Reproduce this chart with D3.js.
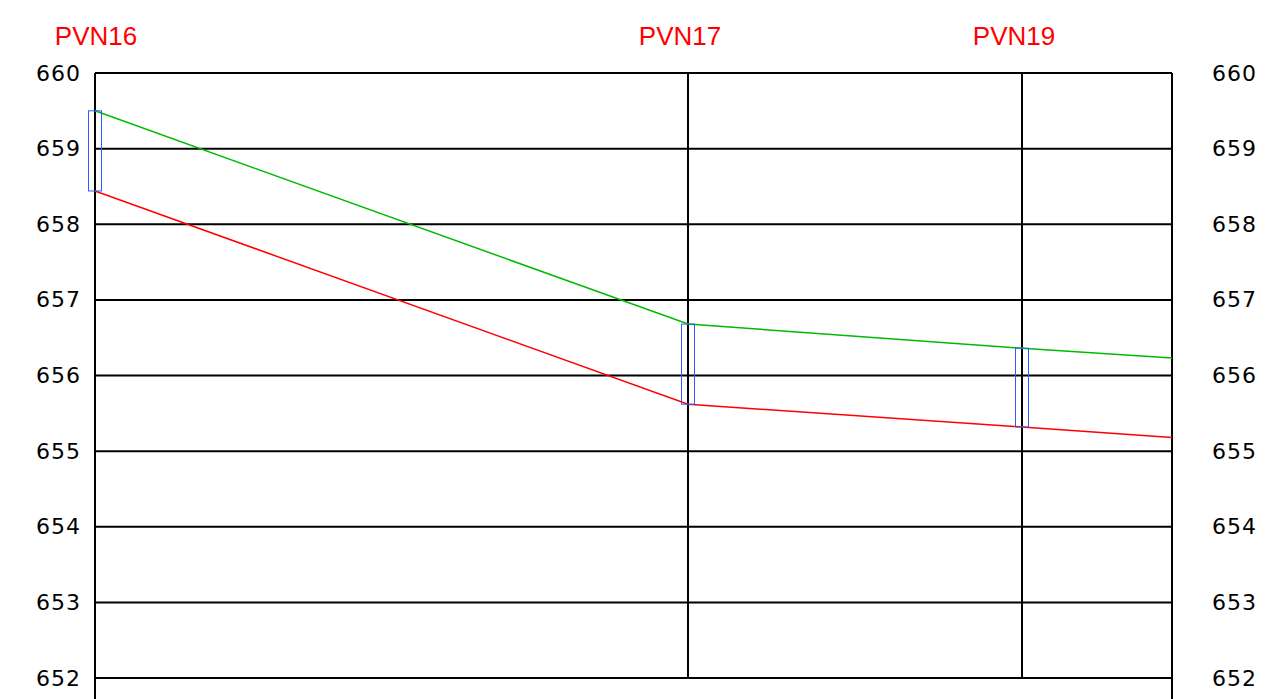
<!DOCTYPE html>
<html>
<head>
<meta charset="utf-8">
<script src="https://cdn.jsdelivr.net/npm/d3@7"></script>
<style>
body { margin: 0; background: #fff; }
</style>
</head>
<body>
<div id="chart"></div>
<script>
// manholes: name, chainage (m)
var manholes = ["PVN16", "PVN17", "PVN19"];
var chainage = [0, 59.3, 92.7];
var endChainage = 107.7;

// profile elevations at each chainage point (manholes + end of section)
var profileX = [0, 59.3, 92.7, 107.7];
var groundLevel = [659.50, 656.68, 656.36, 656.23];
var pipeLevel = [658.44, 655.62, 655.32, 655.18];

var yTicks = [652, 653, 654, 655, 656, 657, 658, 659, 660];

var width = 1271,
height = 699;
var margin = {top: 73, left: 95, bottom: 21, right: 99};

var svg = d3.select("#chart").append("svg")
.attr("width", width)
.attr("height", height);

var x = d3.scaleLinear()
.domain([0, endChainage])
.range([margin.left, width - margin.right]);

var y = d3.scaleLinear()
.domain([652, 660])
.range([height - margin.bottom, margin.top]);

// horizontal grid
svg.append("g")
  .selectAll("line")
  .data(yTicks)
  .enter().append("line")
  .attr("x1", x(0))
  .attr("x2", x(endChainage))
  .attr("y1", d => y(d))
  .attr("y2", d => y(d))
  .attr("stroke", "#000")
  .attr("stroke-width", 2);

// vertical lines at manholes
svg.append("g")
  .selectAll("line")
  .data(chainage.slice(1))
  .enter().append("line")
  .attr("x1", d => x(d))
  .attr("x2", d => x(d))
  .attr("y1", y(660))
  .attr("y2", y(652))
  .attr("stroke", "#000")
  .attr("stroke-width", 2);

// side borders run to the bottom of the page
[0, endChainage].forEach(function(c) {
  svg.append("line")
    .attr("x1", x(c)).attr("x2", x(c))
    .attr("y1", y(660)).attr("y2", height)
    .attr("stroke", "#000")
    .attr("stroke-width", 2);
});

// tick labels left and right
var leftAxis = d3.axisLeft(y).tickValues(yTicks).tickSize(0).tickPadding(14);
var rightAxis = d3.axisRight(y).tickValues(yTicks).tickSize(0).tickPadding(40);

svg.append("g")
  .attr("transform", "translate(" + x(0) + ",0)")
  .call(leftAxis)
  .call(g => g.select(".domain").remove())
  .selectAll("text")
  .attr("font-family", "DejaVu Sans")
  .attr("font-size", 22)
  .attr("letter-spacing", 1)
  .attr("fill", "#000");

svg.append("g")
  .attr("transform", "translate(" + x(endChainage) + ",0)")
  .call(rightAxis)
  .call(g => g.select(".domain").remove())
  .selectAll("text")
  .attr("font-family", "DejaVu Sans")
  .attr("font-size", 22)
  .attr("letter-spacing", 1)
  .attr("fill", "#000");

// profile lines
var line = d3.line()
  .x((d, i) => x(profileX[i]))
  .y(d => y(d));

svg.append("path")
  .datum(groundLevel)
  .attr("d", line)
  .attr("fill", "none")
  .attr("stroke", "#00bb00")
  .attr("stroke-width", 1.5);

svg.append("path")
  .datum(pipeLevel)
  .attr("d", line)
  .attr("fill", "none")
  .attr("stroke", "#ff0000")
  .attr("stroke-width", 1.5);

// manhole boxes
svg.append("g")
  .selectAll("rect")
  .data(chainage)
  .enter().append("rect")
  .attr("x", d => x(d) - 6.5)
  .attr("y", (d, i) => y(groundLevel[i]))
  .attr("width", 13)
  .attr("height", (d, i) => y(pipeLevel[i]) - y(groundLevel[i]))
  .attr("fill", "none")
  .attr("stroke", "#2e5bff")
  .attr("stroke-width", 1);

// manhole names
svg.append("g")
  .selectAll("text")
  .data(manholes)
  .enter().append("text")
  .attr("x", (d, i) => Math.max(x(chainage[i]) - 8, 96))
  .attr("y", 45)
  .attr("text-anchor", "middle")
  .attr("font-family", "Liberation Sans")
  .attr("font-size", 26)
  .attr("fill", "#ff0000")
  .text(d => d);
</script>
</body>
</html>
